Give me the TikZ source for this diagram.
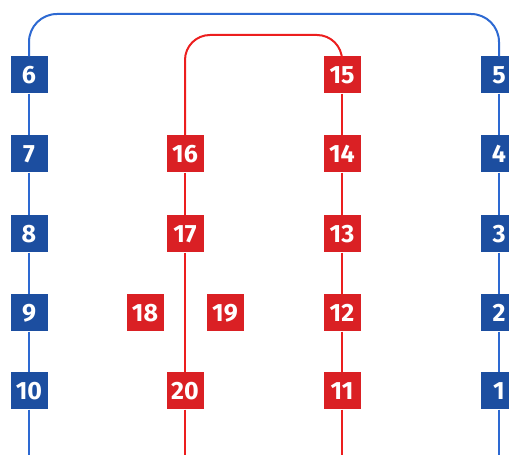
\documentclass[tikz,border=0pt]{standalone}
\usepackage{fontspec}
\setmainfont{Fira Sans}
\definecolor{bluebox}{RGB}{28,78,160}
\definecolor{blueline}{RGB}{45,105,210}
\definecolor{redbox}{RGB}{218,32,36}
\definecolor{redline}{RGB}{236,30,30}
\tikzset{
  station/.style={rectangle, minimum size=37pt, inner sep=0pt, text=white, font=\fontsize{25}{25}\selectfont\bfseries},
  bstation/.style={station, fill=bluebox},
  rstation/.style={station, fill=redbox},
  bline/.style={draw=blueline, line width=2pt},
  rline/.style={draw=redline, line width=2pt}
}
\begin{document}
\begin{tikzpicture}[x=1pt,y=1pt]
\useasboundingbox (0,0) rectangle (509,455);
\clip (0,0) rectangle (509,455);

\coordinate (bottom) at (0,-5);
\coordinate (btop) at (0,441);
\coordinate (rtop) at (0,420);

% blue line
\foreach \n/\y in {6/380,7/301,8/221,9/142,10/64}
	\node[bstation] (s\n) at (29,\y) {\n};
\foreach \n/\y in {5/380,4/301,3/221,2/142,1/64}
	\node[bstation] (s\n) at (499,\y) {\n};

% red line
\foreach \n/\y in {15/380,14/301,13/221,12/142,11/64}
	\node[rstation] (s\n) at (342,\y) {\n};
\foreach \n/\y in {16/301,17/221,20/64}
	\node[rstation] (s\n) at (185,\y) {\n};
\node[rstation] (s18) at (145,142) {18};
\node[rstation] (s19) at (225,142) {19};

\foreach \a/\b in {6/7,7/8,8/9,9/10,5/4,4/3,3/2,2/1}
	\draw[bline] (s\a.south) -- (s\b.north);
\draw[bline] (s10.south) -- (s10 |- bottom);
\draw[bline] (s1.south) -- (s1 |- bottom);
\draw[bline, rounded corners=28pt] (s6.north) -- (s6 |- btop) -- (s5 |- btop) -- (s5.north);

\foreach \a/\b in {15/14,14/13,13/12,12/11,16/17,17/20}
	\draw[rline] (s\a.south) -- (s\b.north);
\draw[rline] (s11.south) -- (s11 |- bottom);
\draw[rline] (s20.south) -- (s20 |- bottom);
\draw[rline, rounded corners=25pt] (s16.north) -- (s16 |- rtop) -- (s15 |- rtop) -- (s15.north);
\end{tikzpicture}
\end{document}
